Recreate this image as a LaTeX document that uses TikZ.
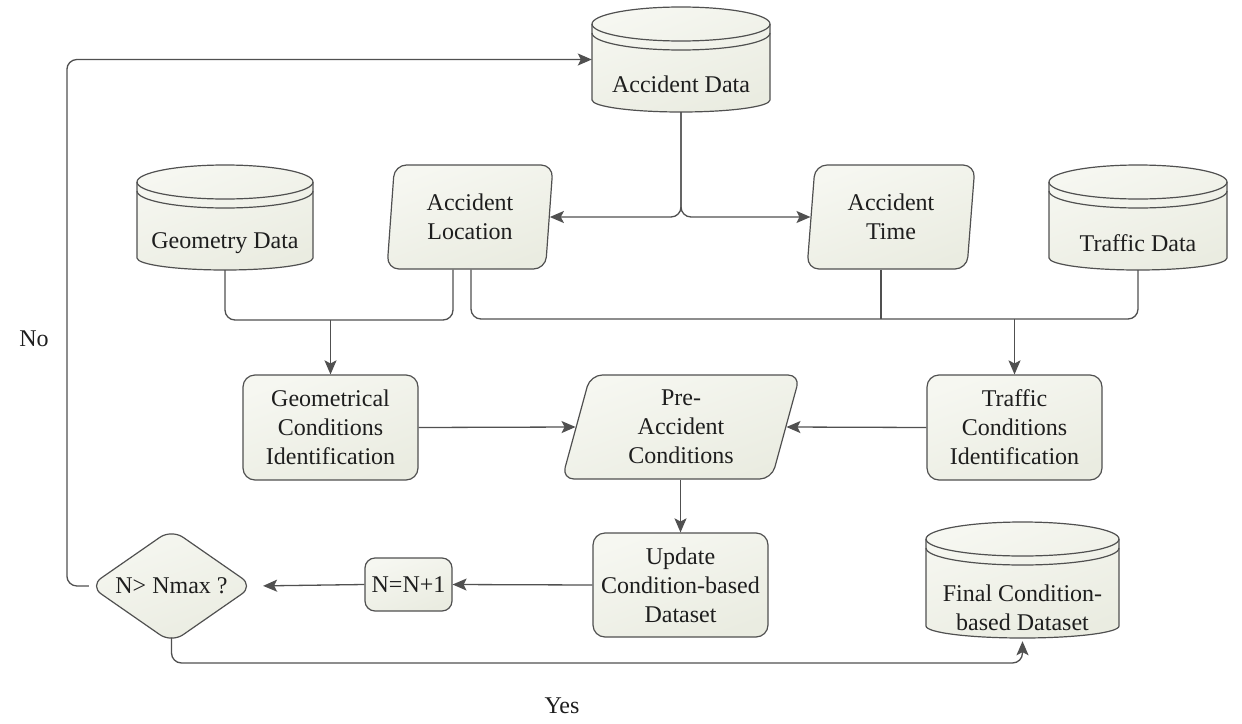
\documentclass[tikz,border=0pt]{standalone}
\usepackage{fontspec}
\setmainfont{Liberation Serif}
\usetikzlibrary{shapes.geometric,arrows.meta,calc}
\definecolor{fillA}{RGB}{246,247,241}
\definecolor{fillB}{RGB}{234,236,225}
\definecolor{linec}{RGB}{80,80,80}
\definecolor{txtc}{RGB}{30,30,30}
\newcommand{\dbcyl}[5]{%
  \pgfmathsetmacro\cL{#2-#5}\pgfmathsetmacro\cR{#2+#5}%
  \pgfmathsetmacro\cTy{#3+17}\pgfmathsetmacro\cBy{#4-12}%
  \pgfmathsetmacro\cTw{#3+26}%
  \path[cyl] (\cL,\cTy) arc[start angle=180,end angle=360,x radius=#5,y radius=17] -- (\cR,\cBy) arc[start angle=0,end angle=180,x radius=#5,y radius=12] -- cycle;
  \draw[cylline] (\cL,\cTy) arc[start angle=180,end angle=0,x radius=#5,y radius=17];
  \draw[cylline] (\cL,\cTw) arc[start angle=180,end angle=0,x radius=#5,y radius=17];
  \pgfmathsetmacro\cM{(#3+#4)/2}\pgfmathsetmacro\cH{#4-#3}\pgfmathsetmacro\cW{2*#5}%
  \node[cylnode, minimum width=\cW pt, minimum height=\cH pt] (#1) at (#2,\cM) {};
}
\begin{document}
\begin{tikzpicture}[x=1pt,y=-1pt,
  every node/.style={font=\fontsize{24}{29}\selectfont, text=txtc},
  shfill/.style={top color=fillA, bottom color=fillB, shading angle=20},
  cyl/.style={draw=linec, line width=1.2pt, shfill},
  cylline/.style={draw=linec, line width=1.2pt},
  cylnode/.style={draw=none, inner sep=0pt, rectangle},
  lbl/.style={inner sep=0pt, align=center},
  box/.style={rectangle, draw=linec, line width=1.2pt, shfill, rounded corners=12pt, align=center, inner sep=0pt},
  para/.style={trapezium, draw=linec, line width=1.2pt, shfill, rounded corners=12pt, align=center, inner sep=0pt, trapezium stretches body},
  decis/.style={diamond, draw=linec, line width=1.2pt, shfill, rounded corners=14pt, inner sep=0pt, aspect=1.44},
  conn/.style={draw=linec, line width=1.3pt},
  arr/.style={conn, -{Stealth[length=14pt,width=12pt,inset=3pt]}}
]
\fill[white] (0,0) rectangle (1242,723);
\useasboundingbox (0,0) rectangle (1242,723);

% data stores
\dbcyl{acc}{681}{7}{112}{89}
\node[lbl] (acctxt) at (681,84) {Accident Data};
\dbcyl{geo}{225}{165}{270}{88}
\node[lbl] (geotxt) at (225,243) {Geometry Data};
\dbcyl{trd}{1138}{165}{270}{89}
\node[lbl] (trdtxt) at (1138,243) {Traffic Data};
\dbcyl{fin}{1022.5}{522}{638}{96.5}
\node[lbl] (fintxt) at (1022.5,608) {Final Condition-\\based Dataset};

% parallelograms
\node[para, trapezium left angle=80.7, trapezium right angle=99.3, minimum width=166pt, minimum height=104pt] (loc) at (470,217) {Accident\\Location};
\node[para, trapezium left angle=80, trapezium right angle=100, minimum width=168pt, minimum height=104pt] (tim) at (891,217) {Accident\\Time};
\node[para, trapezium left angle=69, trapezium right angle=111, minimum width=238pt, minimum height=104pt] (pre) at (681,427) {Pre-\\Accident\\Conditions};

% process boxes
\node[box, minimum width=175pt, minimum height=105pt] (gci) at (330.5,427.5) {Geometrical\\Conditions\\Identification};
\node[box, minimum width=175pt, minimum height=105pt] (tci) at (1014.5,427.5) {Traffic\\Conditions\\Identification};
\node[box, minimum width=175pt, minimum height=104pt] (upd) at (680.5,585) {Update\\Condition-based\\Dataset};
\node[box, minimum width=87pt, minimum height=53pt, rounded corners=10pt] (nn) at (408.5,584.5) {N=N+1};
\node[decis, minimum width=164pt, minimum height=114pt] (dec) at (171.5,586) {N> Nmax ?};

% labels
\node[lbl] (no) at (34,339) {No};
\node[lbl] (yes) at (562,706) {Yes};

% helper coordinates
\coordinate (m1) at (330.5,320);
\coordinate (m2) at (1014.5,319);
\coordinate (locL) at ($(loc.center |- loc.south)+(-17,0)$);
\coordinate (locR) at ($(loc.center |- loc.south)+(1,0)$);
\coordinate (timS) at ($(tim.center |- tim.south)+(-10,0)$);
\coordinate (yc) at (1022.5,663);

% connectors
\draw[arr, rounded corners=10pt] (dec.west) -- ++(-22,0) |- (acc.west);
\draw[arr, rounded corners=10pt] (acc.south) |- (loc.east);
\draw[arr, rounded corners=10pt] (acc.south) |- (tim.west);
\draw[conn, rounded corners=10pt] (geo.south) |- (locL |- m1) -- (locL);
\draw[arr] (m1) -- (gci.north);
\draw[conn, rounded corners=10pt] (locR) |- (trd.south |- m2) -- (trd.south);
\draw[conn] (timS) -- (timS |- m2);
\draw[arr] (m2) -- (tci.north);
\draw[arr] (gci.east) -- (pre.west);
\draw[arr] (tci.west) -- (pre.east);
\draw[arr] (upd.north |- pre.south) -- (upd.north);
\draw[arr] (upd.west) -- (nn.east);
\draw[arr, shorten >=9pt] (nn.west) -- (dec.east);
\draw[arr, rounded corners=10pt, shorten >=3pt] ([yshift=6pt]dec.south) |- (yc) -- (fin.south);
\end{tikzpicture}
\end{document}
